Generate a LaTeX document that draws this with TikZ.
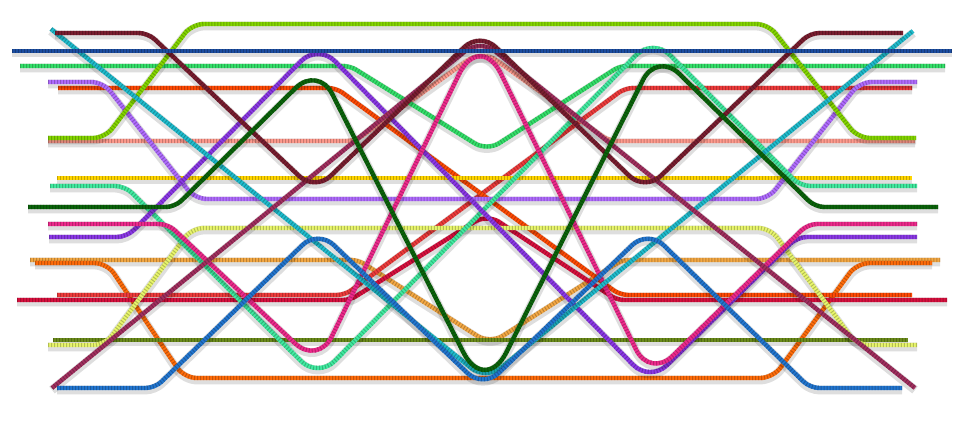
\documentclass[tikz,border=0pt]{standalone}
\usepackage{xcolor}
\usepackage{tikz}
\definecolor{lemon}{HTML}{84D600}
\definecolor{wine}{HTML}{7A1E30}
\definecolor{navy}{HTML}{1C4DA0}
\definecolor{mint}{HTML}{33E06A}
\definecolor{lilac}{HTML}{B06CFF}
\definecolor{flame}{HTML}{FF4A05}
\definecolor{scarlet}{HTML}{EE3B3B}
\definecolor{salmon}{HTML}{FF9A8D}
\definecolor{gold}{HTML}{FFD500}
\definecolor{foam}{HTML}{40EBA0}
\definecolor{forest}{HTML}{0B640B}
\definecolor{rose}{HTML}{EE2A8C}
\definecolor{grape}{HTML}{8B38E6}
\definecolor{butter}{HTML}{E8F56C}
\definecolor{sand}{HTML}{F4A843}
\definecolor{tangerine}{HTML}{FF6C0A}
\definecolor{cherry}{HTML}{D8103E}
\definecolor{moss}{HTML}{6A8A1A}
\definecolor{sky}{HTML}{2276D0}
\definecolor{lagoon}{HTML}{1FBCCD}
\definecolor{berry}{HTML}{A22F5F}

\begin{document}
\begin{tikzpicture}[x=0.5pt,y=-0.5pt,
 strand/.style={draw=#1,line width=2.2pt,rounded corners=4pt,
  preaction={draw=black,draw opacity=.13,line width=4.4pt,transform canvas={yshift=-1pt}},
  postaction={draw=#1!55!black,draw opacity=.5,dash pattern=on .5pt off 1pt}}]
\path[fill=white] (0,0) rectangle (960,420);
\useasboundingbox (0,0) rectangle (960,420);
\draw[strand=sand] (30,260) [rounded corners=3.5pt] -- (358,260) [rounded corners=7.5pt] -- (490,344) [rounded corners=3.5pt] -- (622,260) -- (940,260);
\draw[strand=tangerine,rounded corners=6.3pt] (35,263) -- (107,263) -- (184,378) -- (773,378) -- (857,263) -- (932,263);
\draw[strand=scarlet] (57,295) -- (345,295) -- (625,88) -- (912,88);
\draw[strand=flame] (58,88) -- (336,88) -- (620,295) -- (912,295);
\draw[strand=cherry] (17,300) [rounded corners=3.4pt] -- (350,300) [rounded corners=7.2pt] -- (487,214) [rounded corners=3.4pt] -- (617,300) -- (947,300);
\draw[strand=moss] (53,340) -- (908,340);
\draw[strand=gold] (57,178) -- (912,178);
\draw[strand=salmon] (48,141) [rounded corners=3.9pt] -- (355,141) [rounded corners=8.8pt] -- (482,50) [rounded corners=3.9pt] -- (609,141) -- (915,141);
\draw[strand=mint] (20,66) [rounded corners=3.4pt] -- (350,66) [rounded corners=7.2pt] -- (487,151) [rounded corners=3.4pt] -- (620,66) -- (945,66);
\draw[strand=lilac,rounded corners=5.9pt] (48,82) -- (103,82) -- (195,199) -- (768,199) -- (860,82) -- (917,82);
\draw[strand=butter,rounded corners=5.9pt] (48,345) -- (105,345) -- (192,228) -- (770,228) -- (857,345) -- (917,345);
\draw[strand=lemon,rounded corners=5.9pt] (48,138) -- (105,138) -- (192,24) -- (768,24) -- (858,138) -- (916,138);
\draw[strand=foam] (50,186) [rounded corners=5pt] -- (125,186) [rounded corners=12pt] -- (318,378) -- (653,38) [rounded corners=5pt] -- (800,186) -- (917,186);
\draw[strand=grape] (49,237) [rounded corners=5pt] -- (127,237) [rounded corners=12pt] -- (318,44) -- (650,382) [rounded corners=5pt] -- (797,237) -- (917,237);
\draw[strand=rose] (48,224) [rounded corners=4.5pt] -- (168,224) [rounded corners=15.8pt] -- (318,365) [rounded corners=24pt] -- (480,31) [rounded corners=15.8pt] -- (650,378) [rounded corners=4.5pt] -- (808,224) -- (917,224);
\draw[strand=lagoon,rounded corners=9.6pt] (51,29) -- (486,380) -- (913,31);
\draw[strand=berry,rounded corners=9.6pt] (52,388) -- (480,39) -- (915,388);
\draw[strand=wine] (55,33) [rounded corners=4.6pt] -- (148,33) [rounded corners=10.8pt] -- (315,191) -- (480,32) -- (645,191) [rounded corners=4.6pt] -- (810,33) -- (903,33);
\draw[strand=sky] (57,388) [rounded corners=4.6pt] -- (155,388) [rounded corners=10.8pt] -- (318,230) -- (483,388) -- (648,230) [rounded corners=4.6pt] -- (810,388) -- (902,388);
\draw[strand=forest] (28,207) [rounded corners=4.5pt] -- (175,207) [rounded corners=15.6pt] -- (318,66) [rounded corners=24pt] -- (485,395) [rounded corners=15.6pt] -- (657,52) [rounded corners=4.5pt] -- (815,207) -- (938,207);
\draw[strand=navy] (12,51) -- (952,51);
\end{tikzpicture}
\end{document}
